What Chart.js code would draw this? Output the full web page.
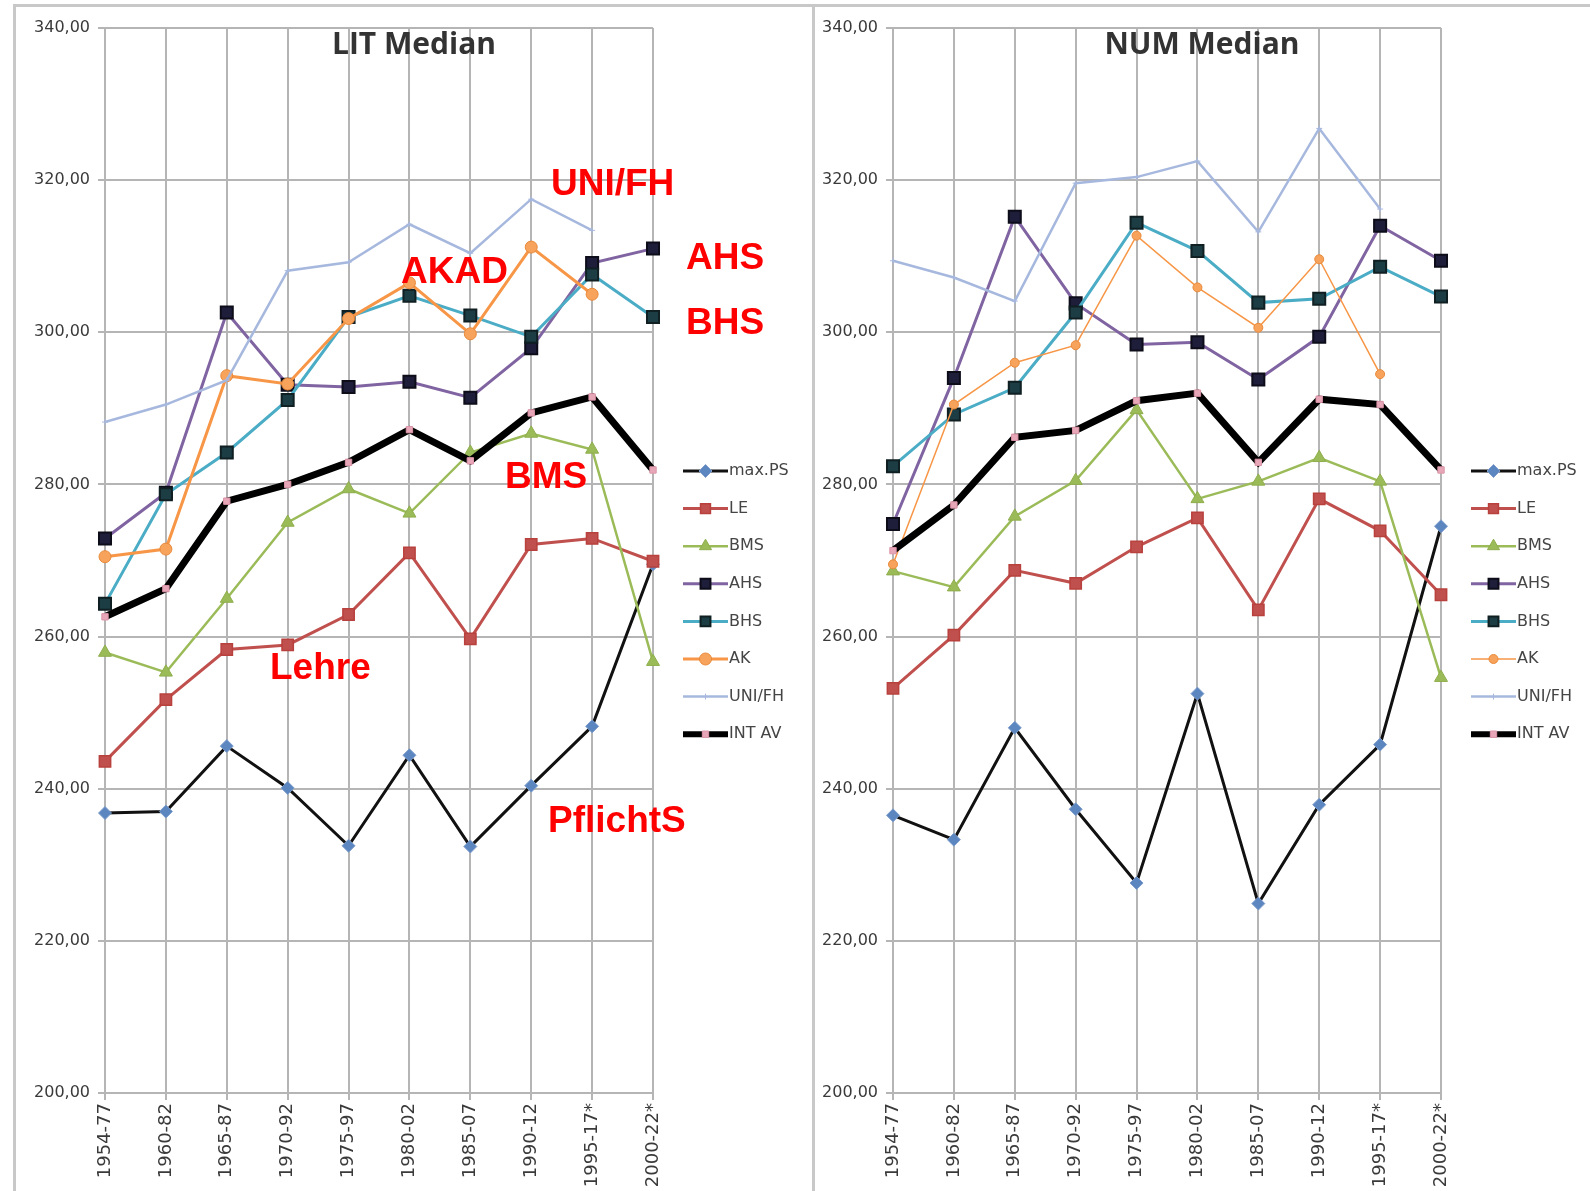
<!DOCTYPE html>
<html>
<head>
<meta charset="utf-8">
<script src="https://cdn.jsdelivr.net/npm/chart.js@4.4.1/dist/chart.umd.min.js"></script>
<style>
html,body{margin:0;padding:0;background:#fff;}
body{width:1590px;height:1191px;position:relative;overflow:hidden;font-family:"DejaVu Sans",sans-serif;}
.fline{position:absolute;background:#c8c8c8;}
#wrapL{position:absolute;left:16px;top:0;width:796px;height:1191px;}
#wrapR{position:absolute;left:815px;top:0;width:775px;height:1191px;}
</style>
</head>
<body>
<div class="fline" style="left:13px;top:4px;width:1577px;height:3px;"></div>
<div class="fline" style="left:13px;top:4px;width:3px;height:1187px;"></div>
<div class="fline" style="left:812px;top:4px;width:3px;height:1187px;"></div>
<div id="wrapL"><canvas id="cL" width="796" height="1191"></canvas></div>
<div id="wrapR"><canvas id="cR" width="775" height="1191"></canvas></div>
<script>
// ---------- DATA ----------
const categories = ['1954-77','1960-82','1965-87','1970-92','1975-97','1980-02','1985-07','1990-12','1995-17*','2000-22*'];
const seriesNames = ['max.PS','LE','BMS','AHS','BHS','AK','UNI/FH','INT AV'];
const yTicks = [200,220,240,260,280,300,320,340];

// LIT Median
const litMaxPS = [236.8, 237.0, 245.6, 240.1, 232.5, 244.4, 232.4, 240.4, 248.2, 269.5];
const litLE    = [243.6, 251.7, 258.3, 258.9, 262.9, 271.0, 259.7, 272.1, 272.9, 269.9];
const litBMS   = [257.9, 255.3, 265.0, 275.0, 279.4, 276.2, 284.2, 286.7, 284.6, 256.7];
const litAHS   = [272.9, 278.9, 302.6, 293.1, 292.8, 293.5, 291.4, 297.9, 309.1, 311.0];
const litBHS   = [264.3, 278.7, 284.2, 291.1, 302.0, 304.8, 302.2, 299.4, 307.6, 302.0];
const litAK    = [270.5, 271.5, 294.3, 293.2, 301.8, 306.5, 299.8, 311.2, 305.0, null];
const litUNI   = [288.2, 290.5, 293.7, 308.1, 309.2, 314.2, 310.4, 317.5, 313.4, null];
const litINT   = [262.6, 266.3, 277.8, 280.0, 282.9, 287.2, 283.1, 289.4, 291.5, 281.9];

// NUM Median
const numMaxPS = [236.5, 233.3, 248.0, 237.3, 227.6, 252.5, 224.9, 237.9, 245.8, 274.5];
const numLE    = [253.2, 260.2, 268.7, 267.0, 271.8, 275.6, 263.5, 278.1, 273.9, 265.5];
const numBMS   = [268.6, 266.5, 275.8, 280.5, 289.8, 278.1, 280.4, 283.5, 280.4, 254.6];
const numAHS   = [274.8, 294.0, 315.2, 303.8, 298.4, 298.7, 293.8, 299.4, 314.0, 309.4];
const numBHS   = [282.4, 289.2, 292.7, 302.6, 314.4, 310.7, 303.9, 304.4, 308.6, 304.7];
const numAK    = [269.5, 290.5, 296.0, 298.3, 312.7, 305.9, 300.6, 309.6, 294.5, null];
const numUNI   = [309.4, 307.2, 304.1, 319.6, 320.4, 322.5, 313.2, 326.8, 316.2, null];
const numINT   = [271.3, 277.3, 286.2, 287.1, 291.0, 292.0, 282.9, 291.2, 290.5, 281.9];

// annotation texts (left chart)
const annotationTexts = ['UNI/FH','AKAD','AHS','BHS','BMS','Lehre','PflichtS'];

// ---------- STYLES ----------
function styleList(thinAK){
  return [
    {borderColor:'#111111', borderWidth:3, pointStyle:'rectRot', pointRadius:6.5, pointBackgroundColor:'#5b86c0', pointBorderColor:'#7d9ccb', pointBorderWidth:1},
    {borderColor:'#c0504d', borderWidth:3, pointStyle:'rect', pointRadius:8, pointBackgroundColor:'#c0504d', pointBorderColor:'#b8403d', pointBorderWidth:1.5},
    {borderColor:'#9bbb59', borderWidth:2.5, pointStyle:'triangle', pointRadius:7.5, pointBackgroundColor:'#9bbb59', pointBorderColor:'#8eae4c', pointBorderWidth:1},
    {borderColor:'#8064a2', borderWidth:3, pointStyle:'rect', pointRadius:8.5, pointBackgroundColor:'#1e1d3a', pointBorderColor:'#0d0d1a', pointBorderWidth:2},
    {borderColor:'#4bacc6', borderWidth:3, pointStyle:'rect', pointRadius:8.5, pointBackgroundColor:'#1c3d44', pointBorderColor:'#0f1f22', pointBorderWidth:2},
    {borderColor:'#f79646', borderWidth: thinAK ? 1.5 : 3, pointStyle:'circle', pointRadius: thinAK ? 4.5 : 6, pointBackgroundColor:'#f7a35c', pointBorderColor:'#e8893a', pointBorderWidth:1},
    {borderColor:'#a7b8de', borderWidth:2.5, pointStyle:'cross', pointRadius:3, pointBackgroundColor:'#a7b8de', pointBorderColor:'#a7b8de', pointBorderWidth:1},
    {borderColor:'#000000', borderWidth:7, pointStyle:'rect', pointRadius:4.5, pointBackgroundColor:'#e8a7b8', pointBorderColor:'#dc95a8', pointBorderWidth:1}
  ];
}

function buildDatasets(seriesValues, thinAK){
  const st = styleList(thinAK);
  return seriesValues.map((vals,i)=>Object.assign({
    label: seriesNames[i],
    data: vals,
    tension: 0,
    fill: false,
    clip: false,
    order: seriesValues.length - i
  }, st[i]));
}

// ---------- PLUGINS ----------
function drawMarker(ctx, style, x, y, r, fill, stroke, bw){
  ctx.save();
  ctx.fillStyle = fill; ctx.strokeStyle = stroke; ctx.lineWidth = bw;
  ctx.beginPath();
  if (style === 'rect'){ const s = Math.SQRT1_2*r; ctx.rect(x-s,y-s,2*s,2*s); ctx.fill(); ctx.stroke(); }
  else if (style === 'rectRot'){ ctx.moveTo(x-r,y); ctx.lineTo(x,y-r); ctx.lineTo(x+r,y); ctx.lineTo(x,y+r); ctx.closePath(); ctx.fill(); ctx.stroke(); }
  else if (style === 'triangle'){ ctx.moveTo(x, y-r); ctx.lineTo(x+r*0.866, y+r*0.5); ctx.lineTo(x-r*0.866, y+r*0.5); ctx.closePath(); ctx.fill(); ctx.stroke(); }
  else if (style === 'circle'){ ctx.arc(x,y,r,0,Math.PI*2); ctx.fill(); ctx.stroke(); }
  else if (style === 'cross'){ ctx.moveTo(x,y-r); ctx.lineTo(x,y+r); ctx.moveTo(x-r,y); ctx.lineTo(x+r,y); ctx.stroke(); }
  ctx.restore();
}

const sideLegend = {
  id:'sideLegend',
  afterDraw(chart, args, opts){
    const ctx = chart.ctx, ca = chart.chartArea;
    const x0 = ca.right + opts.dx, len = 45;
    chart.data.datasets.forEach((ds,i)=>{
      const y = opts.top + i*opts.gap;
      ctx.save();
      ctx.strokeStyle = ds.borderColor; ctx.lineWidth = Math.min(ds.borderWidth, 6);
      ctx.beginPath(); ctx.moveTo(x0,y); ctx.lineTo(x0+len,y); ctx.stroke();
      drawMarker(ctx, ds.pointStyle, x0+len/2, y, Math.min(ds.pointRadius,7), ds.pointBackgroundColor, ds.pointBorderColor, ds.pointBorderWidth);
      ctx.fillStyle = '#454545'; ctx.font = '16px "DejaVu Sans"';
      ctx.textAlign = 'left'; ctx.textBaseline = 'middle';
      ctx.fillText(ds.label, x0+len+1, y);
      ctx.restore();
    });
  }
};

const panelTitle = {
  id:'panelTitle',
  afterDraw(chart, args, opts){
    const ctx = chart.ctx;
    ctx.save();
    ctx.fillStyle = '#333333'; ctx.font = 'bold 30px "Open Sans"';
    ctx.textAlign = 'center'; ctx.textBaseline = 'middle';
    ctx.fillText(opts.text, opts.x, opts.y);
    ctx.restore();
  }
};

const redNotes = {
  id:'redNotes',
  afterDraw(chart, args, opts){
    if (!opts.items) return;
    const ctx = chart.ctx;
    ctx.save();
    ctx.fillStyle = '#ff0000'; ctx.font = 'bold 37px "Liberation Sans", Arial, sans-serif';
    ctx.textAlign = 'left'; ctx.textBaseline = 'middle';
    opts.items.forEach(it => ctx.fillText(it.text, it.x, it.y));
    ctx.restore();
  }
};

// ---------- CHART FACTORY ----------
function makeChart(id, datasets, o){
  const gridColor = '#b5b5b5';
  return new Chart(document.getElementById(id), {
    type:'line',
    data:{ labels: categories, datasets: datasets },
    options:{
      responsive:false, animation:false, devicePixelRatio:1,
      layout:{ padding:{ left:0, right:o.padRight, top:28, bottom:0 } },
      plugins:{
        legend:{ display:false }, tooltip:{ enabled:false },
        sideLegend:{ dx:30, top:471, gap:37.6 },
        panelTitle:{ text:o.title, x:o.titleX, y:45 },
        redNotes:{ items:o.notes }
      },
      scales:{
        x:{
          type:'category', offset:false,
          afterFit(s){ s.height = 98; },
          grid:{ color:gridColor, lineWidth:2, tickLength:7 },
          border:{ color:gridColor, width:2 },
          ticks:{ autoSkip:false, minRotation:90, maxRotation:90, color:'#3a3a3a', padding:3,
                  font:{ family:'"DejaVu Sans"', size:18 } }
        },
        y:{
          min:200, max:340,
          afterBuildTicks(s){ s.ticks = yTicks.map(v=>({value:v})); },
          afterFit(s){ s.width = o.yWidth; },
          grid:{ color:gridColor, lineWidth:2, tickLength:7 },
          border:{ color:gridColor, width:2 },
          ticks:{ color:'#3a3a3a', padding:8, font:{ family:'"DejaVu Sans"', size:16 },
                  callback:(v)=>Number(v).toFixed(2).replace('.', ',') }
        }
      }
    },
    plugins:[sideLegend, panelTitle, redNotes]
  });
}

const offL = 16, offR = 815;
makeChart('cL', buildDatasets([litMaxPS, litLE, litBMS, litAHS, litBHS, litAK, litUNI, litINT], false), {
  title:'LIT Median', titleX: 414 - offL, padRight: 159, yWidth: 89,
  notes:[
    {text:annotationTexts[0], x:551-offL, y:185},
    {text:annotationTexts[1], x:401-offL, y:273},
    {text:annotationTexts[2], x:686-offL, y:259},
    {text:annotationTexts[3], x:686-offL, y:324},
    {text:annotationTexts[4], x:505-offL, y:478},
    {text:annotationTexts[5], x:270-offL, y:669},
    {text:annotationTexts[6], x:548-offL, y:822}
  ]
});
makeChart('cR', buildDatasets([numMaxPS, numLE, numBMS, numAHS, numBHS, numAK, numUNI, numINT], true), {
  title:'NUM Median', titleX: 1202 - offR, padRight: 149, yWidth: 78, notes:null
});
</script>
</body>
</html>
